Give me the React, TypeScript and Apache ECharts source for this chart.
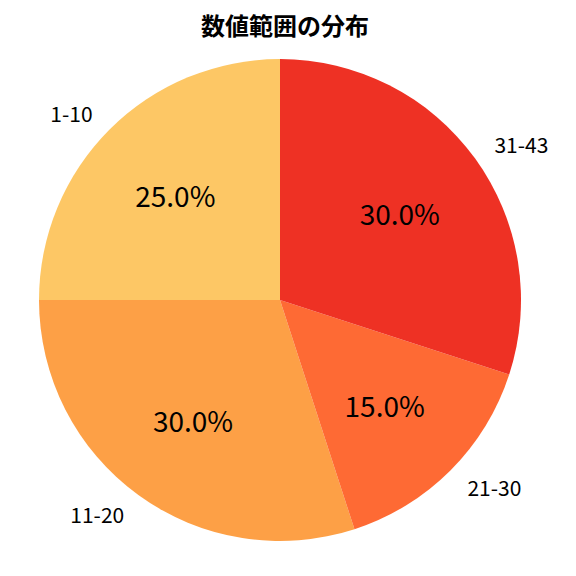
import * as echarts from 'echarts';
import { useEffect, useRef } from 'react';
import type { ECharts } from 'echarts';

const categories = ['1-10', '11-20', '21-30', '31-43'];
const shares = [25.0, 30.0, 15.0, 30.0];
const colors = ['#FDC765', '#FDA046', '#FE6A34', '#EE3124'];

const FONT = '"Noto Sans CJK JP", "Noto Sans", sans-serif';
const center = [280, 300];

const App = () => {
  const chartRef = useRef<HTMLDivElement>(null);

  useEffect(() => {
    document.body.style.margin = '0';
    let chart: ECharts | null = null;
    if (chartRef.current !== null) {
      chart = echarts.init(chartRef.current, null, { renderer: 'svg' });
    }

    const data = categories.map((name, i) => ({
      name,
      value: shares[i],
      itemStyle: { color: colors[i] },
    }));
    // invisible copy used only to place the percentage labels at 0.6 r
    const ghost = categories.map((name, i) => ({
      name,
      value: shares[i],
      itemStyle: { color: 'rgba(0,0,0,0)' },
    }));

    const common = {
      type: 'pie',
      center,
      startAngle: 90,
      clockwise: false,
      silent: true,
      avoidLabelOverlap: false,
      emphasis: { disabled: true },
    };

    const options = {
      animation: false,
      title: {
        text: '数値範囲の分布',
        left: 280,
        textAlign: 'center',
        top: 7,
        textStyle: { fontFamily: FONT, fontSize: 24, fontWeight: 'bold', color: '#000' },
      },
      series: [
        {
          ...common,
          radius: [0, 241],
          label: {
            show: true,
            position: 'outside',
            formatter: '{b}',
            distanceToLabelLine: 0,
            fontFamily: FONT,
            fontSize: 21,
            color: '#000',
          },
          labelLine: { show: false, length: 24, length2: 0 },
          data,
        },
        {
          ...common,
          radius: [120, 170],
          label: {
            show: true,
            position: 'inside',
            formatter: (p: { value: number }) => `${p.value.toFixed(1)}%`,
            fontFamily: FONT,
            fontSize: 28,
            color: '#000',
          },
          labelLine: { show: false },
          data: ghost,
        },
      ],
    };

    chart?.setOption(options);

    return () => {
      chart?.dispose();
      chart = null;
    };
  }, []);

  return <div ref={chartRef} style={{ width: 576, height: 576 }}></div>;
};

export default App;
